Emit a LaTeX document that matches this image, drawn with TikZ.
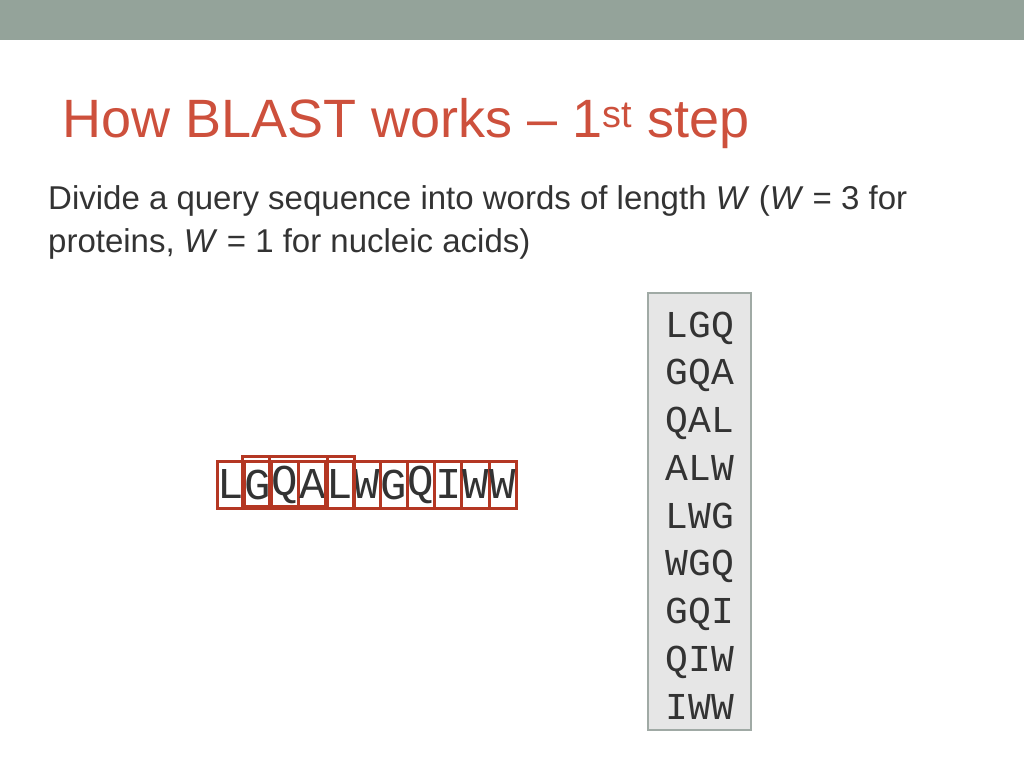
\documentclass[tikz,border=0pt]{standalone}
\usepackage{fontspec}
\setmainfont{Liberation Sans}
\newfontfamily\seqfont{Liberation Mono}
\definecolor{barGray}{RGB}{148,163,154}
\definecolor{titleRed}{RGB}{205,80,60}
\definecolor{boxRed}{RGB}{180,55,35}
\definecolor{colFill}{RGB}{230,230,230}
\definecolor{colLine}{RGB}{160,170,165}
\tikzset{
  letterbox/.style={draw=boxRed, line width=3pt, minimum width=27.2pt, minimum height=47pt, inner sep=0pt, font=\seqfont\fontsize{44}{44}\selectfont, text=black!80},
  word/.style={anchor=base, inner sep=0pt, font=\seqfont\fontsize{38}{38}\selectfont, text=black!80}
}
\begin{document}
\begin{tikzpicture}[x=1pt, y=-1pt]
  \useasboundingbox (0,0) rectangle (1024,768);
  % Top bar
  \fill[barGray] (0,0) rectangle (1024,40);
  % Title and text
  \node[anchor=base west, inner sep=0pt, text=titleRed, font=\fontsize{54}{54}\selectfont] (title) at (62,137) {How BLAST works -- 1\textsuperscript{st} step};
  \node[anchor=base west, inner sep=0pt, align=left, text=black!80, font=\fontsize{33}{43}\selectfont] (intro) at (48,252)
    {Divide a query sequence into words of length \textit{W} (\textit{W} = 3 for\\proteins, \textit{W} = 1 for nucleic acids)};
  % Query sequence
  \foreach \c [count=\i] in {L,G,Q,A,L,W,G,Q,I,W,W} {
    \node[letterbox] (s\i) at ({217+27.2*(\i-0.5)},484.5) {\c};
  }
  \draw[boxRed, line width=3pt] (s2.north west) ++(0,-3) rectangle ([yshift=3pt]s4.south east);
  \draw[boxRed, line width=3pt] (s3.north west) ++(0,-3) rectangle ([yshift=1pt]s5.south east);
  % Word list
  \node[draw=colLine, fill=colFill, line width=2pt, minimum width=103pt, minimum height=437pt, inner sep=0pt] (list) at (699.5,511.5) {};
  \foreach \w [count=\i] in {LGQ,GQA,QAL,ALW,LWG,WGQ,GQI,QIW,IWW} {
    \node[word] (w\i) at (700,{337+47.75*(\i-1)}) {\w};
  }
\end{tikzpicture}
\end{document}
